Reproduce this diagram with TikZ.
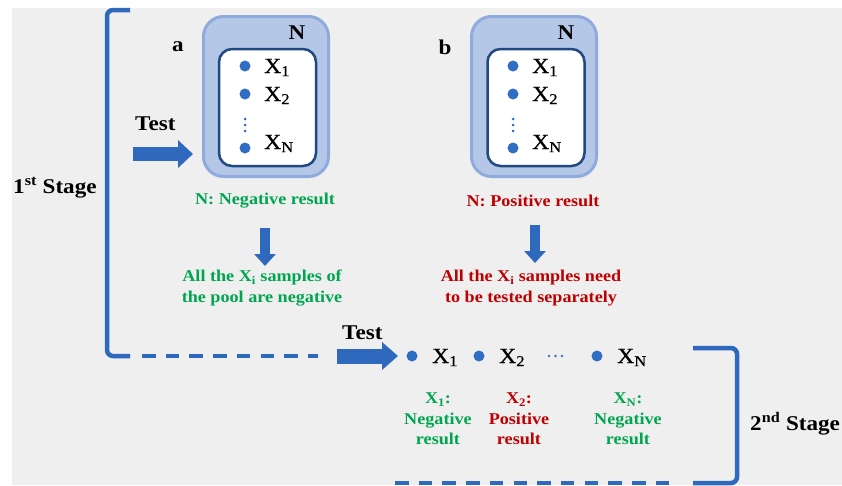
\documentclass[tikz,border=0pt]{standalone}
\usepackage{fontspec}
\setmainfont[FakeStretch=1.1]{Liberation Serif}
\usetikzlibrary{arrows.meta}
\definecolor{bggray}{HTML}{EFEFEF}
\definecolor{arrblue}{RGB}{46,105,190}
\definecolor{dotblue}{RGB}{47,110,195}
\definecolor{boxfill}{HTML}{B4C7E7}
\definecolor{boxedge}{HTML}{8FAADC}
\definecolor{inedge}{RGB}{32,72,130}
\definecolor{mygreen}{HTML}{00A550}
\definecolor{myred}{HTML}{C00000}
\tikzset{
  bracket/.style={draw=arrblue, line width=4.5pt},
  dashbracket/.style={bracket, dash pattern=on 13.5pt off 10.2pt},
  outerbox/.style={draw=boxedge, fill=boxfill, line width=3pt, rounded corners=20pt,
    minimum width=125pt, minimum height=160pt, inner sep=0},
  innerbox/.style={draw=inedge, fill=white, line width=2.5pt, rounded corners=13pt,
    minimum width=97pt, minimum height=117pt, inner sep=0},
  bdot/.style={circle, fill=dotblue, inner sep=0, minimum size=11pt},
  vdots/.style={draw=dotblue, line width=3pt, line cap=round, dash pattern=on 0pt off 6pt},
  bigarrow/.style={draw=arrblue, line width=14pt, -{Triangle[length=15pt,width=27pt]}},
  downarrow/.style={draw=arrblue, line width=10pt, -{Triangle[length=12pt,width=21pt]}},
  lbl/.style={font=\fontsize{21}{24}\selectfont\bfseries, inner sep=0},
  xl/.style={font=\fontsize{21.5}{24}\selectfont\addfontfeature{FakeBold=0.6}, inner sep=0},
  gtxt/.style={font=\fontsize{16.5}{20.5}\selectfont\bfseries, text=mygreen, align=center, inner sep=0},
  rtxt/.style={font=\fontsize{16.5}{20.5}\selectfont\bfseries, text=myred, align=center, inner sep=0},
}
\begin{document}
\begin{tikzpicture}[x=1pt,y=-1pt]
\useasboundingbox (0,0) rectangle (842,485);
\fill[bggray] (12,8) rectangle (842,485);

% left bracket
\coordinate (LBt) at (130,10);
\coordinate (LBb) at (130,356);
\coordinate (LBd1) at (142,356);
\coordinate (LBd2) at (318,356);
\draw[bracket, rounded corners=6pt] (LBt) -- (107,10) -- (107,356) -- (LBb);
\draw[dashbracket] (LBd1) -- (LBd2);
\node[lbl, anchor=base west] (st1) at (13,193) {1\textsuperscript{st} Stage};

% right bracket
\coordinate (RBt) at (693,348);
\coordinate (RBb) at (693,483);
\coordinate (RBd1) at (395,483);
\coordinate (RBd2) at (675,483);
\draw[bracket, rounded corners=6pt] (RBt) -- (737,348) -- (737,483) -- (RBb);
\draw[dashbracket] (RBd1) -- (RBd2);
\node[lbl, anchor=base west] (st2) at (750,430) {2\textsuperscript{nd} Stage};

% pool a
\node[outerbox] (Pa) at (266,96.5) {};
\node[innerbox] (Ia) at (267.5,107.5) {};
\node[lbl] (Na) at (297,33) {N};
\node[lbl] (la) at (178,47) {a};
\node[bdot] (a1) at (245,66) {};
\node[bdot] (a2) at (245,94) {};
\node[bdot] (aN) at (245,148) {};
\coordinate (av1) at (245,119);
\coordinate (av2) at (245,132);
\draw[vdots] (av1) -- (av2);
\node[xl, anchor=base west] (ax1) at (264,73) {X\textsubscript{1}};
\node[xl, anchor=base west] (ax2) at (264,101) {X\textsubscript{2}};
\node[xl, anchor=base west] (axN) at (264,149) {X\textsubscript{N}};

% pool b
\node[outerbox] (Pb) at (534,96.5) {};
\node[innerbox] (Ib) at (536,107.5) {};
\node[lbl] (Nb) at (566,33) {N};
\node[lbl] (lb) at (445,47) {b};
\node[bdot] (b1) at (513,66) {};
\node[bdot] (b2) at (513,94) {};
\node[bdot] (bN) at (513,148) {};
\coordinate (bv1) at (513,119);
\coordinate (bv2) at (513,132);
\draw[vdots] (bv1) -- (bv2);
\node[xl, anchor=base west] (bx1) at (532,73) {X\textsubscript{1}};
\node[xl, anchor=base west] (bx2) at (532,101) {X\textsubscript{2}};
\node[xl, anchor=base west] (bxN) at (532,149) {X\textsubscript{N}};

% test arrow stage 1
\node[lbl, anchor=base west] (test1) at (135,130) {Test};
\coordinate (ta1) at (133,154);
\coordinate (ta2) at (193,154);
\draw[bigarrow] (ta1) -- (ta2);

% results stage 1
\node[gtxt] (resa) at (265,201) {N: Negative result};
\node[rtxt] (resb) at (533,201) {N: Positive result};
\coordinate (da1) at (265,228);
\coordinate (da2) at (265,266);
\draw[downarrow] (da1) -- (da2);
\coordinate (db1) at (535,225);
\coordinate (db2) at (535,263);
\draw[downarrow] (db1) -- (db2);
\node[gtxt] (conca) at (262,288) {All the X\textsubscript{i} samples of\\the pool are negative};
\node[rtxt] (concb) at (531,288) {All the X\textsubscript{i} samples need\\to be tested separately};

% stage 2
\node[lbl, anchor=base west] (test2) at (342,339) {Test};
\coordinate (tb1) at (337,356);
\coordinate (tb2) at (398,356);
\draw[bigarrow, line width=15pt, -{Triangle[length=16pt,width=27pt]}] (tb1) -- (tb2);
\node[bdot] (s1) at (412,356) {};
\node[bdot] (s2) at (479,356) {};
\node[bdot] (sN) at (597,356) {};
\node[xl, anchor=base west] (sx1) at (432,363) {X\textsubscript{1}};
\node[xl, anchor=base west] (sx2) at (499,363) {X\textsubscript{2}};
\node[xl, anchor=base west] (sxN) at (617,363) {X\textsubscript{N}};
\coordinate (hd1) at (549,356);
\coordinate (hd2) at (563,356);
\draw[vdots, line width=2.8pt, dash pattern=on 0pt off 6.5pt] (hd1) -- (hd2);
\node[gtxt] (r1) at (438,419) {X\textsubscript{1}:\\Negative\\result};
\node[rtxt] (r2) at (519,419) {X\textsubscript{2}:\\Positive\\result};
\node[gtxt] (rN) at (628,419) {X\textsubscript{N}:\\Negative\\result};
\end{tikzpicture}
\end{document}
